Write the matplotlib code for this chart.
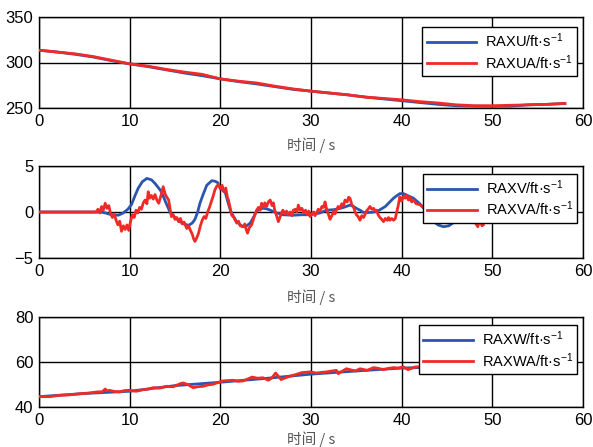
import matplotlib
matplotlib.use("Agg")
import matplotlib.pyplot as plt
import numpy as np

plt.rcParams['font.family'] = ['Liberation Sans', 'Noto Sans CJK SC', 'DejaVu Sans']
plt.rcParams['mathtext.fontset'] = 'custom'
plt.rcParams['mathtext.rm'] = 'Liberation Sans'
plt.rcParams['mathtext.it'] = 'Liberation Sans:italic'

# ---------------- data ----------------
# U (top)
u_time = [0, 2, 4, 6, 8, 10, 12, 14, 16, 18, 20, 22, 24, 26, 28, 30, 32, 34, 36, 38,
          40, 42, 44, 46, 48, 50, 52, 54, 56, 58]
raxua = [313.5, 311.5, 309.5, 306.5, 302.5, 298.5, 296, 292.5, 289.5, 287, 282, 279.5,
         277.5, 274, 271, 268.5, 266.5, 264.5, 262, 260.5, 259, 257, 255.5, 253.5,
         252.5, 252.5, 253, 253.5, 254, 255]
raxu = [313.5, 311.5, 309, 306, 302, 298.5, 295.5, 292, 288.5, 285.5, 282, 279, 276.5,
        273.5, 270.5, 268.5, 266.5, 264.5, 262, 260, 258, 256, 254, 252.5, 252,
        251.8, 252, 253.5, 254, 255]

# V (middle)
v_time_a = [0, 6.3, 6.5, 6.7, 6.9, 7.1, 7.3, 7.5, 7.7, 7.9, 8.1, 8.3, 8.5, 8.7, 8.9, 9.1,
            9.3, 9.5, 9.7, 9.9, 10.1, 10.3, 10.5, 10.7, 10.9, 11.1, 11.3, 11.5, 11.7, 11.9,
            12.05, 12.2, 12.4, 12.6, 12.8, 13.0, 13.2, 13.4, 13.55, 13.7, 13.9, 14.1, 14.3,
            14.45, 14.6, 14.8, 15.0, 15.2, 15.4, 15.6, 15.8, 16.0, 16.3, 16.5, 16.7, 16.9,
            17.05, 17.2, 17.4, 17.6, 17.8, 18.0, 18.2, 18.4, 18.6, 18.8, 19.0, 19.2, 19.4,
            19.6, 19.8, 20.0, 20.2, 20.4, 20.6, 20.8, 20.9, 21.1, 21.25, 21.5, 21.8, 22.0,
            22.2, 22.5, 22.7, 22.85, 23.0, 23.2, 23.45, 23.7, 24.0, 24.2, 24.4, 24.55,
            24.75, 24.9, 25.1, 25.3, 25.5, 25.7, 25.85, 26.0, 26.2, 26.4, 26.6, 26.75,
            26.9, 27.1, 27.3, 27.5, 27.7, 27.9, 28.05, 28.3, 28.45, 28.6, 28.8, 29.0,
            29.2, 29.4, 29.6, 29.75, 29.9, 30.1, 30.3, 30.45, 30.6, 30.8, 31.0, 31.2,
            31.4, 31.55, 31.7, 31.9, 32.1, 32.3, 32.5, 32.65, 32.8, 33.0, 33.2, 33.4,
            33.6, 33.75, 34.0, 34.15, 34.3, 34.5, 34.7, 34.85, 35.0, 35.2, 35.4, 35.6,
            35.8, 35.95, 36.1, 36.3, 36.5, 36.7, 36.9, 37.1, 37.25, 37.4, 37.6, 37.8,
            38.0, 38.2, 38.4, 38.55, 38.7, 38.9, 39.1, 39.3, 39.45, 39.6, 39.8, 40.0,
            40.2, 40.4, 40.55, 40.75, 40.9, 41.1, 41.3, 41.6, 42.0, 42.5, 43.0, 43.5,
            44.0, 44.5, 45.0, 45.5, 46.0, 46.5, 47.0, 47.5, 48.0, 48.2, 48.4, 48.55,
            48.7, 48.85, 49.0]
raxva = [0, 0, 0.3, -0.1, 0.6, 0.2, 0.95, 0.4, 0.7, -0.2, -0.6, -0.2, -0.9, -1.4, -1.0,
         -2.1, -1.5, -1.9, -1.4, -2.0, -1.0, -0.3, -0.6, 0.2, -0.1, 0.5, 0.3, 1.0, 1.3,
         0.9, 2.2, 1.5, 1.8, 1.4, 1.9, 1.3, 0.95, 1.6, 2.2, 2.75, 2.0, 1.6, 1.3, 0.4, -0.5,
         -0.3, -0.8, -0.6, -1.05, -0.7, -1.3, -1.1, -1.8, -1.5, -2.0, -2.4, -2.9, -3.2,
         -2.8, -2.3, -1.5, -0.9, -0.5, -0.7, 0.0, 0.5, 1.1, 1.7, 2.4, 2.8, 3.0, 2.5, 2.9,
         2.2, 2.6, 1.5, 1.3, 0.4, -0.33, -0.6, -1.2, -1.0, -1.5, -1.6, -1.3, -1.9, -2.3,
         -1.7, -1.4, -0.6, 0.2, 0.5, 0.2, 0.95, 0.5, 1.0, 0.6, 1.1, 1.3, 0.7, 1.0, 0.2,
         -0.4, -1.05, -0.5, -0.1, 0.2, -0.2, 0.1, -0.3, 0.0, -0.4, 0.2, 0.3, 0.0, 0.75,
         0.2, 0.4, -0.1, 0.2, -0.3, 0.1, -0.5, -0.2, 0.0, -0.4, -0.1, 0.3, 0.1, 0.6, 0.5,
         1.1, 0.4, -0.2, -0.8, -0.4, 0.1, -0.2, 0.2, 0.6, 0.4, 0.9, 0.7, 1.3, 1.1, 1.6,
         1.5, 0.8, 0.5, 0.05, -0.3, -0.5, -0.9, -0.4, -0.6, -0.3, 0.1, 0.3, 0.6, 0.3, 0.4,
         0.1, 0.2, -0.3, -0.6, -0.8, -1.05, -0.7, -0.9, -0.6, -0.9, -0.7, -0.9, -0.7, 0.0,
         0.6, 1.65, 1.2, 1.7, 1.5, 1.85, 1.3, 1.6, 1.1, 1.3, 0.9, 0.8, 0.4, 0.2, -0.2,
         -0.5, -0.7, -0.8, -0.5, -0.5, -0.7, -0.6, -0.8, -1.0, -1.3, -1.6, -1.0, -0.9,
         -1.5, -1.4]
v_time = [0, 6.8, 7.3, 8.0, 8.75, 9.3, 9.8, 10.2, 10.6, 10.95, 11.4, 11.9, 12.4, 12.8,
          13.2, 13.5, 14.0, 14.45, 15.0, 15.55, 16.0, 16.5, 16.9, 17.2, 17.5, 17.75, 18.1,
          18.5, 19.05, 19.4, 19.7, 20.0, 20.55, 20.8, 21.1, 21.4, 21.8, 22.2, 22.5, 22.9,
          23.3, 23.7, 24.0, 24.4, 24.75, 25.1, 25.5, 26.2, 26.9, 28.0, 29.0, 29.9, 30.5,
          31.0, 31.7, 32.5, 33.0, 33.6, 34.3, 34.7, 35.0, 35.4, 35.8, 36.5, 37.25, 37.7,
          38.2, 38.6, 39.1, 39.5, 39.8, 40.2, 40.5, 41.3, 42.0, 42.8, 43.5, 44.0, 44.6,
          45.2, 45.8, 46.5, 47.2, 48.0, 49.0]
raxv = [0, 0, -0.1, -0.3, -0.35, -0.1, 0.3, 0.8, 1.8, 2.6, 3.3, 3.65, 3.5, 3.1, 2.6, 2.2,
        1.0, 0.0, -0.6, -1.05, -1.3, -1.45, -1.2, -0.8, 0.0, 0.95, 1.9, 2.9, 3.4, 3.35,
        3.2, 2.6, 2.1, 1.2, 0.2, -0.4, -1.05, -1.4, -1.6, -1.5, -1.2, -0.5, 0.1, 0.35,
        0.4, 0.35, 0.2, -0.1, -0.3, -0.35, -0.3, -0.3, -0.2, -0.1, 0.2, 0.25, 0.35, 0.5,
        0.75, 0.6, 0.4, 0.2, -0.05, -0.05, 0.05, 0.3, 0.6, 1.0, 1.5, 1.8, 2.0, 2.0, 1.85,
        1.5, 0.9, 0.0, -1.0, -1.4, -1.6, -1.5, -1.1, -0.6, -0.3, -0.2, -0.3]

# W (bottom)
w_time_a = [0, 1.2, 2.3, 3.4, 4.5, 5.5, 6.4, 7.0, 7.3, 7.5, 7.8, 8.3, 8.9, 9.4, 10.0,
            10.7, 11.5, 12.0, 12.6, 13.3, 14.1, 14.8, 15.6, 15.9, 16.4, 17.0, 17.5, 18.1,
            18.6, 19.2, 19.96, 20.3, 21.4, 22.0, 22.5, 23.0, 23.5, 24.1, 24.7, 25.3,
            25.7, 26.1, 26.7, 27.2, 27.7, 28.3, 29.0, 29.9, 30.6, 31.2, 31.7, 32.3, 32.8,
            33.0, 33.9, 34.4, 34.9, 35.4, 36.2, 36.9, 37.4, 38.0, 38.6, 39.1, 39.6, 40.2,
            40.7, 41.5, 43.0, 45.0, 47.0, 49.0]
raxwa = [44.6, 44.6, 45.2, 45.4, 45.9, 46.2, 46.7, 46.8, 48.0, 47.2, 47.4, 46.9, 46.7,
         47.3, 47.4, 47.0, 47.7, 47.9, 48.6, 48.4, 49.2, 49.0, 50.4, 50.7, 50.0, 48.6,
         49.0, 49.2, 49.8, 50.1, 51.2, 51.6, 51.9, 51.4, 51.6, 52.4, 53.3, 52.8, 53.0,
         51.9, 53.0, 55.1, 52.2, 53.0, 53.7, 54.4, 55.3, 55.6, 55.1, 55.4, 55.6, 56.0,
         56.3, 54.8, 57.0, 56.5, 56.0, 57.0, 56.3, 57.5, 57.2, 56.6, 57.2, 57.5, 57.3,
         57.8, 56.6, 57.8, 58.0, 58.2, 58.3, 58.5]
w_time = [0, 5, 10, 15, 20, 25, 30, 35, 40, 45, 49]
raxw = [44.6, 46.0, 47.0, 49.5, 51.0, 52.7, 54.6, 56.0, 57.3, 57.9, 58.3]

xticks = [0, 10, 20, 30, 40, 50, 60]
panels = [
    dict(ylim=(250, 350), yticks=[250, 300, 350],
         blue=(u_time, raxu, 'RAXU/ft·s$^{-1}$'),
         red=(u_time, raxua, 'RAXUA/ft·s$^{-1}$')),
    dict(ylim=(-5, 5), yticks=[-5, 0, 5],
         blue=(v_time, raxv, 'RAXV/ft·s$^{-1}$'),
         red=(v_time_a, raxva, 'RAXVA/ft·s$^{-1}$')),
    dict(ylim=(40, 80), yticks=[40, 60, 80],
         blue=(w_time, raxw, 'RAXW/ft·s$^{-1}$'),
         red=(w_time_a, raxwa, 'RAXWA/ft·s$^{-1}$')),
]
xlabel = '时间 / s'

# ---------------- drawing ----------------
W, H = 593, 447
fig = plt.figure(figsize=(W / 100, H / 100), dpi=100)
# axes rectangles in pixels: (left, top, right, bottom)
rects = [(39, 17, 583, 108), (39, 166, 583, 258), (39, 317, 583, 407)]
leg_anchor = [(0.989, 0.89), (0.989, 0.913), (0.989, 0.911)]
label_pads = [6, 8, 3]
BLUE = '#2b55b0'
RED = '#f02a26'

for p, (l, t, r, b), anc, lp in zip(panels, rects, leg_anchor, label_pads):
    ax = fig.add_axes([l / W, 1 - b / H, (r - l) / W, (b - t) / H])
    bx, by, bl = p['blue']
    rx, ry, rl = p['red']
    ax.plot(bx, by, color=BLUE, lw=2.0, label=bl, zorder=3)
    ax.plot(rx, ry, color=RED, lw=2.0, label=rl, zorder=4)
    ax.set_xlim(0, 60)
    ax.set_ylim(*p['ylim'])
    ax.set_xticks(xticks)
    ax.set_yticks(p['yticks'])
    ax.grid(True, color='black', lw=1.0)
    ax.set_axisbelow(True)
    ax.tick_params(length=0, labelsize=12, pad=4)
    for s in ax.spines.values():
        s.set_color('black')
        s.set_linewidth(1.0)
    ax.set_xlabel(xlabel, fontsize=10.5, color='#555555', labelpad=lp,
                  family=['Noto Sans CJK SC', 'DejaVu Sans'])
    leg = ax.legend(loc='upper right', bbox_to_anchor=anc, fontsize=10.5,
                    frameon=True, fancybox=False, edgecolor='black',
                    handlelength=3.4, borderpad=0.28, labelspacing=0.22,
                    borderaxespad=0, handletextpad=0.6, framealpha=1)
    leg.get_frame().set_linewidth(1.0)
    leg.set_zorder(10)

fig.savefig('out.png', dpi=100)
